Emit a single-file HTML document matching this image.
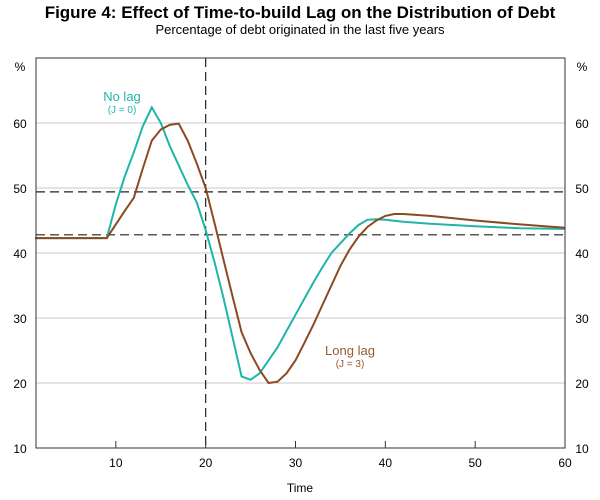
<!DOCTYPE html>
<html><head><meta charset="utf-8">
<style>
body{margin:0;background:#fff;font-family:"Liberation Sans",Arial,sans-serif;}
svg text{font-family:"Liberation Sans",Arial,sans-serif;}
</style></head>
<body>
<svg id="chart" width="600" height="495" viewBox="0 0 600 495">
<text x="300" y="18" text-anchor="middle" font-size="17" font-weight="bold" fill="#000">Figure 4: Effect of Time-to-build Lag on the Distribution of Debt</text>
<text x="300" y="34" text-anchor="middle" font-size="13" fill="#000">Percentage of debt originated in the last five years</text>
<g id="grid"></g>
<g id="refs"></g>
<g id="series"></g>
<g id="axes"></g>
<text x="122" y="101" text-anchor="middle" font-size="13" fill="#1fb5a8">No lag</text>
<text x="122" y="113" text-anchor="middle" font-size="10" fill="#1fb5a8">(J = 0)</text>
<text x="350" y="355" text-anchor="middle" font-size="13" fill="#9a5a2e">Long lag</text>
<text x="350" y="367" text-anchor="middle" font-size="10" fill="#9a5a2e">(J = 3)</text>
<text x="300" y="492" text-anchor="middle" font-size="12">Time</text>
<text x="20" y="71" text-anchor="middle" font-size="12">%</text>
<text x="582" y="71" text-anchor="middle" font-size="12">%</text>
</svg>
<script>
const noLagT = [1,9,10,11,12,13,14,15,16,17,18,19,20,21,22,23,24,25,26,27,28,29,30,31,32,33,34,35,36,37,38,39,40,42,45,50,55,60];
const noLagV = [42.3,42.3,47.5,51.8,55.5,59.5,62.4,60,56.5,53.5,50.5,47.8,43.5,38.5,33,27,21,20.5,21.5,23.5,25.5,28,30.5,33,35.5,37.8,40,41.5,43,44.3,45.1,45.2,45.1,44.8,44.5,44.1,43.8,43.7];
const longLagT = [1,9,10,11,12,13,14,15,16,17,18,19,20,21,22,23,24,25,26,27,28,29,30,31,32,33,34,35,36,37,38,39,40,41,42,45,50,55,60];
const longLagV = [42.3,42.3,44.4,46.5,48.5,53,57.3,59,59.7,59.9,57.3,53.8,50,44.5,38.9,33.3,27.8,24.6,22,20,20.2,21.5,23.5,26.2,29,32,35,38,40.5,42.5,44,45,45.7,46,46,45.7,45,44.4,43.9];
const xTicks = [10,20,30,40,50,60];
const yTicks = [10,20,30,40,50,60];
const refY = [49.4,42.8];
const refX = [20];

const L=36,R=565,T=58,B=448;
const xs=t=>26+t*(R-26)/60;
const ys=v=>B-(v-10)*(B-T)/60;
const NS='http://www.w3.org/2000/svg';
function mk(tag,parent,attrs){const e=document.createElementNS(NS,tag);for(const k in attrs)e.setAttribute(k,attrs[k]);document.getElementById(parent).appendChild(e);return e;}

yTicks.forEach(v=>{
  if(v>10){
    const g=mk('line','grid',{x1:L,x2:R,y1:ys(v),y2:ys(v),stroke:'#c8c8c8','stroke-width':1});
    
    
  }
  const a=mk('text','axes',{x:20,y:ys(v)+5,'text-anchor':'middle','font-size':12});
  a.textContent=v;
  
  
  const b=mk('text','axes',{x:582,y:ys(v)+5,'text-anchor':'middle','font-size':12});
  b.textContent=v;
  
  
});
xTicks.forEach(t=>{
  const m=mk('line','axes',{x1:xs(t),x2:xs(t),y1:B,y2:B-7,stroke:'#333','stroke-width':1});
  
  
  const l=mk('text','axes',{x:xs(t),y:B+19,'text-anchor':'middle','font-size':12});
  l.textContent=t;
  
  
});
refY.forEach((v,i)=>{
  const d=mk('line','refs',{x1:L,x2:R,y1:ys(v),y2:ys(v),stroke:'#222','stroke-width':1.2,'stroke-dasharray':'9,5'});
  
  
});
refX.forEach(t=>{
  const d=mk('line','refs',{x1:xs(t),x2:xs(t),y1:T,y2:B,stroke:'#222','stroke-width':1.2,'stroke-dasharray':'9,5'});
  
  
});
function pts(T_,V_){return T_.map((t,i)=>xs(t).toFixed(1)+','+ys(V_[i]).toFixed(1)).join(' ');}
const p1=mk('polyline','series',{points:pts(noLagT,noLagV),fill:'none',stroke:'#1fb5a8','stroke-width':2});


const p2=mk('polyline','series',{points:pts(longLagT,longLagV),fill:'none',stroke:'#8b4a22','stroke-width':2});


const fr=mk('rect','axes',{x:L,y:T,width:R-L,height:B-T,fill:'none',stroke:'#333','stroke-width':1});


</script>
</body></html>
